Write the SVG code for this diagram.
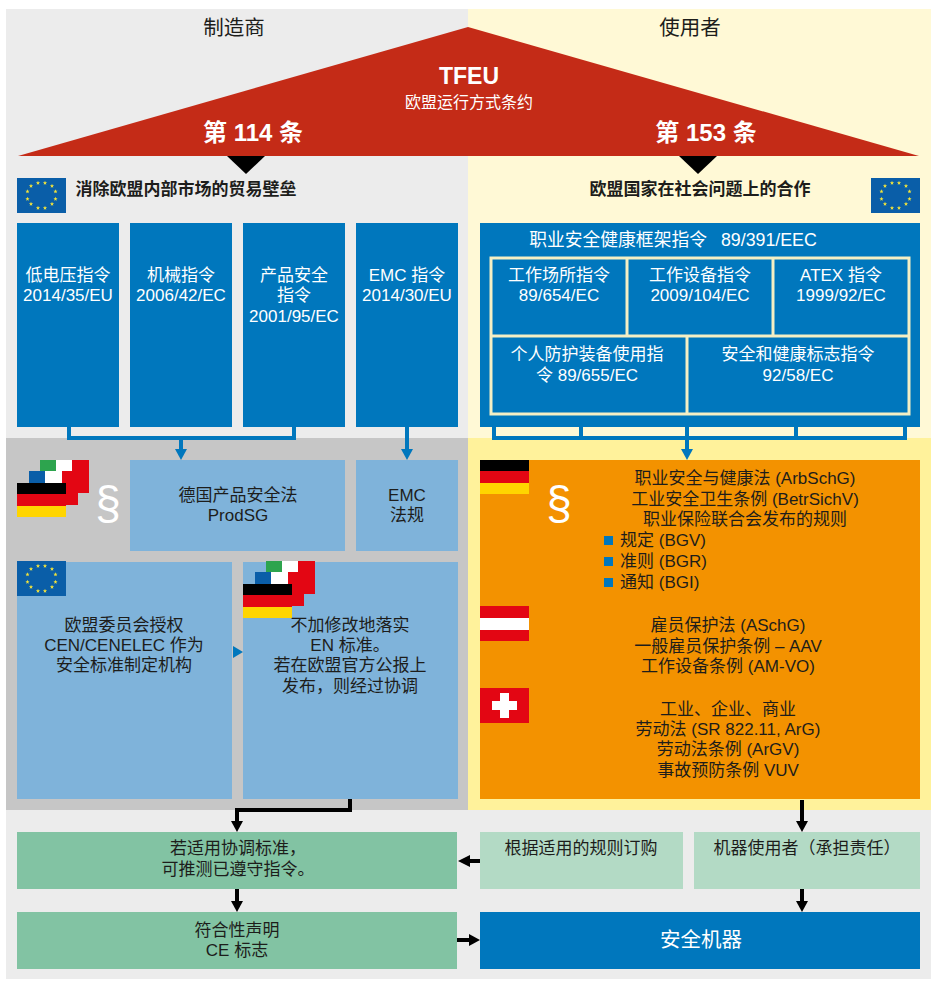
<svg xmlns="http://www.w3.org/2000/svg" width="938" height="986" viewBox="0 0 938 986">
<style>
text{font-family:"Liberation Sans","Noto Sans CJK SC",sans-serif;font-size:17px;text-anchor:middle;fill:#1d1d1b}
.w{fill:#fff}
.h{font-size:20.5px}
.b{font-weight:700}
.blue{fill:#0077bd}
.lb{fill:#7fb3da}
.g{fill:#82c3a3}
.lg{fill:#b3dac5}
.frame{fill:none;stroke:#f4efc4;stroke-width:3}
.cb{fill:none;stroke:#0077bd;stroke-width:4}
.ck{fill:none;stroke:#000;stroke-width:4}
.sec{font-family:"Liberation Sans",sans-serif;font-size:46px;fill:#fff}
.st{text-anchor:start}
</style>
<defs>
<g id="star"><polygon points="0,-2.2 .6,-.7 2.1,-.7 .9,.3 1.3,1.8 0,.9 -1.3,1.8 -.9,.3 -2.1,-.7 -.6,-.7" fill="#f0e23c"/></g>
<g id="eu"><rect width="49" height="35" fill="#0a5ea8"/>
<use href="#star" x="21" y="5"/><use href="#star" x="28" y="5"/><use href="#star" x="35" y="8"/><use href="#star" x="38.500" y="13.500"/><use href="#star" x="38.500" y="21"/><use href="#star" x="35" y="26"/><use href="#star" x="28" y="30"/><use href="#star" x="21" y="30"/><use href="#star" x="14" y="26"/><use href="#star" x="10.500" y="21"/><use href="#star" x="10.500" y="13.500"/><use href="#star" x="14" y="8"/></g>
<g id="de"><rect width="49" height="11.500" fill="#000"/><rect y="11" width="49" height="12" fill="#e30613"/><rect y="23" width="49" height="11" fill="#ffd500"/></g>
<g id="stack">
<rect x="23" width="16" height="33" fill="#2da44e"/><rect x="39" width="16" height="33" fill="#fff"/><rect x="55" width="17" height="33" fill="#e30613"/>
<rect x="12" y="11" width="16" height="34" fill="#0a5ea8"/><rect x="28" y="11" width="17" height="34" fill="#fff"/><rect x="45" y="11" width="16" height="34" fill="#e30613"/>
<use href="#de" y="23"/></g>
</defs>

<g id="backgrounds">
<rect x="6" y="9" width="462" height="429" fill="#ececec"/>
<rect x="468" y="9" width="463" height="429" fill="#fff9d6"/>
<rect x="6" y="438" width="462" height="372" fill="#c6c6c6"/>
<rect x="468" y="438" width="463" height="372" fill="#fff29b"/>
<rect x="6" y="810" width="925" height="169" fill="#ececec"/>
</g>

<g id="connectors">
<path class="cb" d="M69 427V438H294V427M181 438V450"/><polygon class="blue" points="175,449 187,449 181,460"/>
<path class="cb" d="M407 427V450"/><polygon class="blue" points="401,449 413,449 407,460"/>
<path class="cb" d="M494 427V438H905V427M581 427V438M687 427V450M796 427V438"/><polygon class="blue" points="681,449 693,449 687,460"/>
<polygon class="blue" points="233,646 243,652 233,658"/>
<path class="ck" d="M350 798V810H237V822"/><polygon points="231,821 243,821 237,832"/>
<path class="ck" d="M237 888V902"/><polygon points="231,901 243,901 237,912"/>
<path class="ck" d="M480 861H469"/><polygon points="458,861 470,855 470,867"/>
<path class="ck" d="M457 940H470"/><polygon points="480,940 469,934 469,946"/>
<path class="ck" d="M802 800V822"/><polygon points="796,821 808,821 802,832"/>
<path class="ck" d="M802 889V902"/><polygon points="796,901 808,901 802,912"/>
</g>

<g id="roof">
<polygon points="18,156 468,27 919,156" fill="#c42b17"/>
<polygon points="227,156 265,156 246,174" fill="#000"/>
<polygon points="679,156 717,156 698,174" fill="#000"/>
<text class="w b" x="469" y="84" style="font-size:23px">TFEU</text>
<text class="w" x="469" y="108" style="font-size:16px">欧盟运行方式条约</text>
<text class="w b" x="253" y="141" style="font-size:24px">第 114 条</text>
<text class="w b" x="706" y="141" style="font-size:24px">第 153 条</text>
</g>

<g id="titles">
<text class="h" x="234" y="35">制造商</text>
<text class="h" x="690" y="35">使用者</text>
<use href="#eu" x="17" y="178"/>
<text class="b" x="186" y="195" style="font-size:17px">消除欧盟内部市场的贸易壁垒</text>
<text class="b" x="700" y="195" style="font-size:17px">欧盟国家在社会问题上的合作</text>
<use href="#eu" x="871" y="178"/>
</g>

<g id="dir-lv"><rect class="blue" x="17" y="223" width="102" height="204"/><text class="w" x="68" y="281">低电压指令</text><text class="w" x="68" y="301">2014/35/EU</text></g>
<g id="dir-mach"><rect class="blue" x="130" y="223" width="102" height="204"/><text class="w" x="181" y="281">机械指令</text><text class="w" x="181" y="301">2006/42/EC</text></g>
<g id="dir-prod"><rect class="blue" x="243" y="223" width="102" height="204"/><text class="w" x="294" y="281">产品安全</text><text class="w" x="294" y="301">指令</text><text class="w" x="294" y="322">2001/95/EC</text></g>
<g id="dir-emc"><rect class="blue" x="356" y="223" width="102" height="204"/><text class="w" x="407" y="281">EMC 指令</text><text class="w" x="407" y="301">2014/30/EU</text></g>

<g id="framework">
<rect class="blue" x="480" y="223" width="440" height="204"/>
<text class="w" x="673" y="246" style="word-spacing:9px;font-size:17.800px">职业安全健康框架指令 89/391/EEC</text>
<rect class="frame" x="491" y="258" width="418" height="156"/>
<path class="frame" d="M627 258V336M773 258V336M491 336H909M687 336V414"/>
<text class="w" x="559" y="281">工作场所指令</text><text class="w" x="559" y="301">89/654/EC</text>
<text class="w" x="700" y="281">工作设备指令</text><text class="w" x="700" y="301">2009/104/EC</text>
<text class="w" x="841" y="281">ATEX 指令</text><text class="w" x="841" y="301">1999/92/EC</text>
<text class="w" x="587" y="360">个人防护装备使用指</text><text class="w" x="587" y="381">令 89/655/EC</text>
<text class="w" x="798" y="360">安全和健康标志指令</text><text class="w" x="798" y="381">92/58/EC</text>
</g>

<g id="prodsg"><rect class="lb" x="130" y="460" width="215" height="91"/><text x="238" y="501">德国产品安全法</text><text x="238" y="521">ProdSG</text></g>
<g id="emc-law"><rect class="lb" x="356" y="460" width="102" height="91"/><text x="407" y="501">EMC</text><text x="407" y="521">法规</text></g>
<g id="flags-de"><use href="#stack" x="17" y="460"/><text class="sec" x="108" y="519">§</text></g>

<g id="cen"><rect class="lb" x="17" y="562" width="215" height="237"/><use href="#eu" x="17" y="561"/>
<text x="124" y="631">欧盟委员会授权</text><text x="124" y="651">CEN/CENELEC 作为</text><text x="124" y="671">安全标准制定机构</text></g>
<g id="en"><rect class="lb" x="243" y="562" width="215" height="237"/><use href="#stack" x="243" y="561"/>
<text x="350" y="631">不加修改地落实</text><text x="350" y="651">EN 标准。</text><text x="350" y="671">若在欧盟官方公报上</text><text x="350" y="692">发布，则经过协调</text></g>

<g id="user-law"><rect x="480" y="460" width="440" height="339" fill="#f39200"/>
<use href="#de" x="480" y="460"/><text class="sec" x="559" y="519">§</text>
<text x="745" y="484">职业安全与健康法 (ArbSchG)</text>
<text x="745" y="505">工业安全卫生条例 (BetrSichV)</text>
<text x="745" y="525">职业保险联合会发布的规则</text>
<rect class="blue" x="604" y="536" width="9" height="9"/><text class="st" x="620" y="546">规定 (BGV)</text>
<rect class="blue" x="604" y="557" width="9" height="9"/><text class="st" x="620" y="567">准则 (BGR)</text>
<rect class="blue" x="604" y="578" width="9" height="9"/><text class="st" x="620" y="588">通知 (BGI)</text>
<rect x="480" y="606" width="49" height="35" fill="#e30613"/><rect x="480" y="618" width="49" height="12" fill="#fff"/>
<text x="728" y="631">雇员保护法 (ASchG)</text><text x="728" y="652">一般雇员保护条例 – AAV</text><text x="728" y="672">工作设备条例 (AM-VO)</text>
<rect x="480" y="688" width="49" height="35" fill="#e30613"/><rect x="492" y="701" width="25" height="9" fill="#fff"/><rect x="500" y="693" width="9" height="25" fill="#fff"/>
<text x="728" y="715">工业、企业、商业</text><text x="728" y="735">劳动法 (SR 822.11, ArG)</text><text x="728" y="755">劳动法条例 (ArGV)</text><text x="728" y="776">事故预防条例 VUV</text></g>

<g id="presume"><rect class="g" x="17" y="832" width="440" height="57"/><text x="238" y="854">若适用协调标准，</text><text x="238" y="875">可推测已遵守指令。</text></g>
<g id="order"><rect class="lg" x="480" y="832" width="203" height="57"/><text x="581" y="854">根据适用的规则订购</text></g>
<g id="machine-user"><rect class="lg" x="694" y="832" width="226" height="57"/><text x="807" y="854">机器使用者（承担责任）</text></g>
<g id="ce"><rect class="g" x="17" y="912" width="440" height="57"/><text x="237" y="936">符合性声明</text><text x="237" y="956">CE 标志</text></g>
<g id="safe"><rect class="blue" x="480" y="912" width="440" height="57"/><text class="w" x="701" y="947" style="font-size:20.500px">安全机器</text></g>
</svg>
